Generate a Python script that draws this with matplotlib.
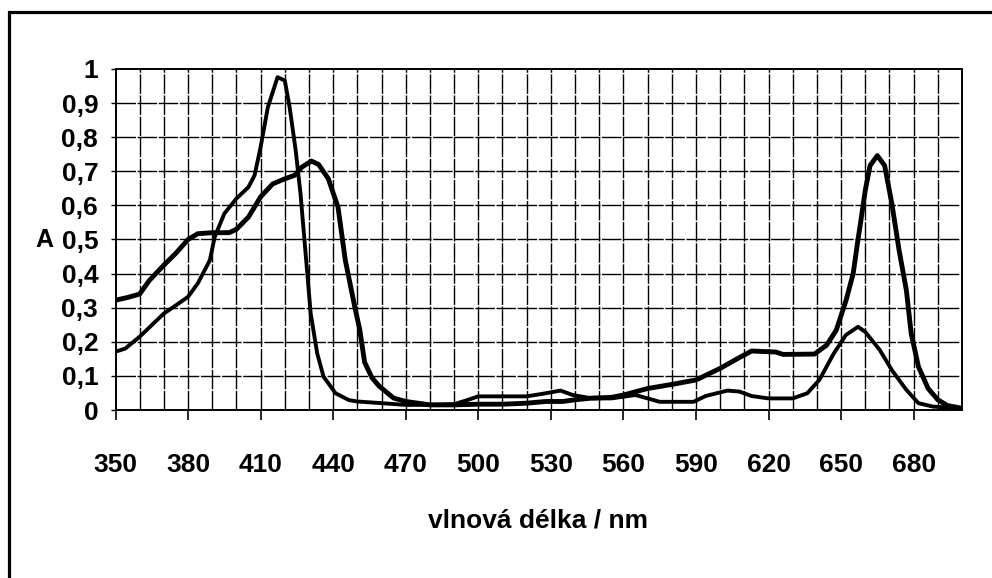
import matplotlib
matplotlib.use("Agg")
import matplotlib.pyplot as plt
from matplotlib import font_manager
from matplotlib.patches import Rectangle
from matplotlib.ticker import FixedLocator, FuncFormatter

# Absorption spectra: wavelength (nm) and absorbance A
wl_1 = [350, 355, 360, 364, 370, 375, 380, 384, 390, 397,
        400, 405, 410, 415, 420, 424, 427, 431, 434, 438,
        442, 445, 449, 451, 453, 456, 459, 465, 470, 480,
        490, 500, 510, 520, 528, 535, 540, 547, 555, 560,
        570, 580, 590, 600, 607, 613, 623, 626, 639, 644,
        648, 652, 655, 657, 658, 660, 662, 665, 668, 671,
        674, 677, 679, 682, 686, 690, 694, 700]
abs_1 = [0.322, 0.33, 0.34, 0.38, 0.425, 0.46, 0.50, 0.517, 0.52, 0.52,
         0.53, 0.566, 0.625, 0.663, 0.678, 0.688, 0.712, 0.73, 0.72, 0.678,
         0.595, 0.44, 0.30, 0.235, 0.14, 0.095, 0.07, 0.035, 0.025, 0.015,
         0.015, 0.017, 0.017, 0.02, 0.025, 0.025, 0.03, 0.035, 0.037, 0.044,
         0.063, 0.075, 0.088, 0.122, 0.15, 0.173, 0.17, 0.163, 0.164, 0.19,
         0.234, 0.32, 0.40, 0.50, 0.546, 0.644, 0.717, 0.746, 0.717, 0.605,
         0.468, 0.351, 0.224, 0.127, 0.063, 0.03, 0.013, 0.005]

wl_2 = [350, 354, 360, 365, 370, 375, 380, 384, 389, 391,
        395, 400, 405, 407.5, 410, 413, 415, 417, 420, 422,
        424.5, 426.5, 428.6, 430.7, 433.4, 436, 441, 446.5, 450, 460,
        470, 480, 490, 495, 500, 510, 520, 527, 534, 539,
        547, 555, 565, 570, 575, 589, 594, 603, 608, 613,
        620, 630, 636, 641, 647, 652, 657, 660, 666, 671,
        677, 682, 688, 700]
abs_2 = [0.171, 0.18, 0.215, 0.249, 0.283, 0.307, 0.332, 0.371, 0.439, 0.507,
         0.576, 0.62, 0.654, 0.688, 0.771, 0.888, 0.932, 0.976, 0.966, 0.888,
         0.761, 0.634, 0.459, 0.283, 0.166, 0.098, 0.049, 0.029, 0.025, 0.02,
         0.015, 0.015, 0.017, 0.028, 0.04, 0.04, 0.04, 0.048, 0.057, 0.044,
         0.034, 0.034, 0.044, 0.034, 0.024, 0.024, 0.041, 0.057, 0.054, 0.041,
         0.034, 0.034, 0.049, 0.088, 0.166, 0.22, 0.244, 0.229, 0.176, 0.117,
         0.059, 0.02, 0.01, 0.005]

x_major = list(range(350, 681, 30))
x_minor = list(range(350, 701, 10))
y_ticks = [i / 10 for i in range(11)]

names = {f.name for f in font_manager.fontManager.ttflist}
narrow = "Liberation Sans Narrow" if "Liberation Sans Narrow" in names else "Liberation Sans"

W, H, DPI = 992, 578, 100
fig = plt.figure(figsize=(W / DPI, H / DPI), dpi=DPI)
fig.patch.set_facecolor("white")

left, right, top, bottom = 115.5, 962, 69, 410
ax = fig.add_axes([left / W, 1 - bottom / H, (right - left) / W, (bottom - top) / H])

ax.set_xlim(350, 700)
ax.set_ylim(0, 1)

# grid: every 10 nm and every 0.1 A
grid_style = dict(color="black", lw=1.0, ls=(0, (14, 1.2)), zorder=1)
for x in x_minor[1:-1]:
    ax.axvline(x, **grid_style)
for y in y_ticks[1:-1]:
    ax.axhline(y, **grid_style)

ax.plot(wl_1, abs_1, color="black", lw=3.5, solid_joinstyle="round",
        solid_capstyle="round", zorder=3)
ax.plot(wl_2, abs_2, color="black", lw=2.8, solid_joinstyle="round",
        solid_capstyle="round", zorder=3)

for s in ax.spines.values():
    s.set_linewidth(1.4)
    s.set_color("black")

ax.xaxis.set_major_locator(FixedLocator(x_major))
ax.yaxis.set_major_locator(FixedLocator(y_ticks))
ax.yaxis.set_major_formatter(FuncFormatter(
    lambda v, p: "0" if abs(v) < 1e-9 else ("1" if abs(v - 1) < 1e-9 else f"{v:.1f}".replace(".", ","))))
ax.tick_params(axis="x", direction="out", length=7, width=1.2, pad=24)
ax.tick_params(axis="y", direction="out", length=3.5, width=1.0, pad=9)
for lab in ax.get_xticklabels() + ax.get_yticklabels():
    lab.set_fontfamily(narrow)
    lab.set_fontweight("bold")
    lab.set_fontsize(19)

fig.text(44 / W, 1 - 240 / H, "A", fontfamily="Liberation Sans", fontweight="bold",
         fontsize=18, ha="center", va="center")
fig.text(537.5 / W, 1 - 520 / H, "vlnová délka / nm", fontfamily=narrow,
         fontweight="bold", fontsize=19, ha="center", va="center")

# outer frame, open past the right and bottom edges
fig.patches.append(Rectangle((9 / W, -0.2), 1.2, 1 - 12 / H + 0.2, transform=fig.transFigure,
                             fill=False, edgecolor="black", lw=2.3, clip_on=False))

fig.savefig("out.png", dpi=DPI, facecolor="white")
